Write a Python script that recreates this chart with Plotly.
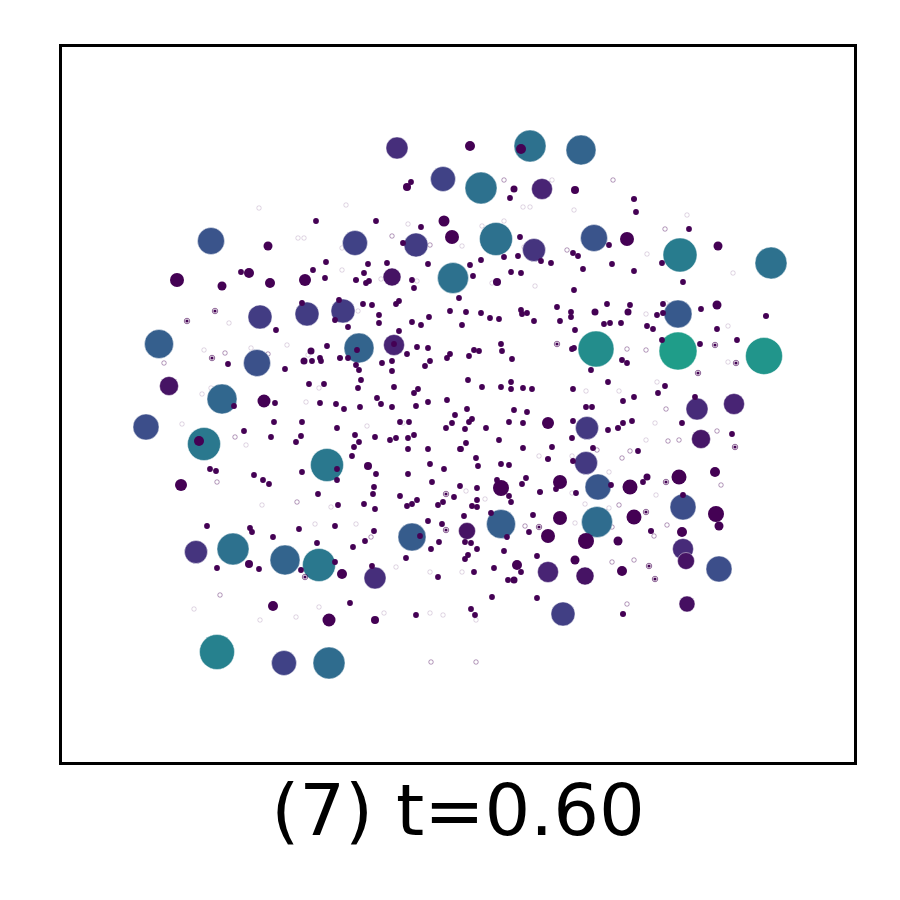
import plotly.graph_objects as go

# values: (x, y, size, colour value)
large = [
    (397, 148, 22, .13), (530, 146, 32, .37), (581, 150, 30, .32), (443, 179, 25, .2),
    (481, 188, 32, .37), (542, 189, 21, .1), (211, 241, 27, .26), (355, 243, 25, .2),
    (416, 245, 24, .18), (496, 239, 33, .37), (534, 250, 23, .15), (594, 238, 27, .26),
    (680, 255, 34, .42), (771, 263, 32, .37), (453, 278, 31, .37), (392, 277, 18, .05),
    (260, 317, 24, .18), (307, 314, 24, .18), (343, 311, 24, .18), (678, 314, 28, .28),
    (159, 344, 29, .3), (359, 348, 30, .32), (394, 345, 21, .1), (596, 349, 36, .49),
    (678, 351, 38, .55), (764, 356, 37, .52), (257, 363, 27, .25), (169, 386, 19, .05),
    (222, 399, 30, .33), (697, 409, 22, .12), (734, 404, 21, .1), (146, 427, 26, .24),
    (204, 444, 33, .4), (587, 428, 23, .17), (701, 439, 19, .06), (327, 465, 33, .4),
    (586, 463, 23, .17), (598, 487, 26, .27), (683, 507, 26, .24), (412, 537, 28, .29),
    (467, 531, 17, .05), (501, 524, 29, .3), (597, 522, 31, .35), (233, 549, 32, .37),
    (196, 552, 23, .15), (285, 560, 30, .32), (319, 565, 33, .4), (375, 578, 22, .13),
    (683, 549, 21, .12), (686, 561, 17, .05), (548, 572, 21, .1), (585, 576, 18, .05),
    (719, 569, 26, .24), (563, 614, 24, .19), (687, 604, 16, .04), (217, 652, 35, .44),
    (284, 663, 25, .2), (329, 663, 32, .35),
]

# (x, y, size), all at the bottom of the colour scale
medium = [
    (268, 246, 9), (177, 280, 14), (249, 273, 10), (222, 286, 9), (270, 283, 10),
    (305, 280, 12), (444, 221, 11), (452, 237, 14), (407, 187, 8), (311, 351, 7),
    (304, 361, 7), (264, 401, 13), (340, 358, 6), (356, 280, 6), (470, 146, 10),
    (521, 149, 10), (514, 189, 7), (575, 190, 8), (634, 199, 6), (627, 239, 14),
    (718, 246, 9), (497, 282, 8), (717, 305, 9), (766, 316, 6), (595, 312, 7),
    (628, 312, 7), (199, 441, 10), (181, 485, 12), (368, 466, 8), (249, 564, 8),
    (342, 574, 10), (273, 606, 10), (329, 620, 13), (375, 620, 8), (548, 423, 12),
    (548, 459, 6), (501, 488, 16), (560, 482, 14), (540, 492, 6), (630, 487, 15),
    (647, 477, 7), (679, 477, 15), (715, 472, 10), (618, 428, 6), (560, 518, 14),
    (634, 517, 15), (548, 536, 14), (586, 541, 16), (618, 541, 9), (651, 531, 6),
    (682, 532, 10), (719, 526, 9), (716, 514, 16), (517, 565, 10), (514, 580, 7),
    (575, 560, 9), (622, 571, 10), (623, 614, 6),
]

small_x = [
    316, 376, 421, 403, 411, 326, 313, 241, 325, 368, 387, 364, 366, 369, 412, 414, 428,
    302, 339, 363, 372, 379, 379, 396, 399, 429, 412, 421, 450, 459, 335, 348, 276, 399,
    327, 417, 428, 450, 447, 407, 392, 382, 430, 425, 320, 321, 312, 348, 356, 359, 392,
    285, 228, 361, 394, 358, 309, 324, 418, 414, 377, 447, 357, 394,
    234, 275, 320, 336, 344, 360, 381, 392, 416, 428, 455, 452, 446, 274, 302, 337, 400,
    409, 244, 301, 271, 296, 355, 359, 354, 352, 375, 390, 396, 408, 414, 408, 428, 460,
    430, 444, 408, 376, 337, 337, 302, 210, 216, 254, 263, 269, 432, 374, 460, 373, 318,
    400, 417, 412, 407, 438, 443, 454, 364, 338, 375, 428, 442, 207, 250, 252, 273, 299,
    335, 374, 365, 353, 317, 420, 439, 431, 406, 438, 217, 259, 301, 335, 372, 350, 416,
    510, 636, 689, 520, 609, 504, 518, 541, 551, 573, 578, 583, 612, 662, 634, 481, 470,
    473, 511, 521, 574, 683, 466, 481, 490, 499, 521, 522, 527, 534, 462, 557, 571, 571,
    560, 575, 607, 630, 604, 610, 621, 663, 657, 663, 647, 653, 701, 717, 737, 700, 662,
    501, 502, 474, 479, 469, 512, 572, 574, 622, 627, 591, 468, 482, 501, 511, 511, 523,
    532, 573, 608, 665, 658, 634, 695, 623,
    467, 472, 469, 465, 486, 514, 527, 509, 523, 586, 592, 573, 608, 623, 632, 682, 732,
    499, 466, 461, 523, 572, 552, 593, 638, 476, 478, 501, 509, 573, 526, 522, 497, 477,
    477, 509, 511, 472, 477, 556, 576, 611, 643, 491, 464, 533, 529, 507, 465, 471, 477,
    504, 468, 465, 537, 494, 474, 521, 508, 492, 537, 471, 475, 683,
]
small_y = [
    221, 221, 227, 243, 182, 262, 270, 272, 278, 264, 263, 273, 283, 281, 280, 288, 264,
    303, 300, 304, 305, 315, 323, 304, 301, 317, 322, 325, 311, 298, 320, 327, 330, 331,
    346, 347, 348, 354, 358, 354, 361, 363, 361, 366, 358, 361, 361, 358, 365, 370, 371,
    369, 364, 380, 387, 388, 384, 384, 389, 393, 398, 400, 350, 344,
    406, 403, 403, 404, 409, 407, 404, 407, 406, 402, 415, 423, 428, 422, 422, 428, 422,
    422, 431, 436, 437, 442, 435, 442, 447, 456, 437, 440, 438, 438, 435, 449, 449, 449,
    464, 469, 474, 474, 469, 480, 472, 469, 471, 475, 480, 484, 482, 487, 486, 494, 494,
    496, 500, 504, 506, 505, 502, 497, 504, 505, 509, 521, 524, 526, 528, 532, 537, 529,
    526, 531, 541, 547, 543, 536, 542, 549, 558, 577, 568, 569, 570, 562, 566, 603, 615,
    198, 212, 229, 237, 245, 257, 256, 261, 263, 253, 256, 269, 264, 263, 271, 260, 265,
    276, 272, 273, 290, 282, 312, 313, 318, 319, 310, 314, 313, 321, 325, 307, 312, 317,
    321, 330, 304, 305, 324, 323, 323, 304, 315, 313, 326, 329, 309, 329, 340, 344, 340,
    344, 351, 350, 351, 356, 359, 349, 348, 360, 363, 370, 380, 387, 387, 389, 382, 388,
    389, 389, 382, 386, 393, 397, 397, 401,
    409, 419, 422, 429, 428, 410, 412, 422, 423, 407, 407, 421, 430, 423, 421, 423, 434,
    440, 443, 449, 448, 438, 447, 448, 451, 458, 466, 464, 465, 461, 478, 484, 480, 488,
    500, 496, 502, 506, 507, 489, 493, 485, 482, 513, 516, 515, 532, 537, 542, 543, 549,
    551, 555, 559, 556, 568, 572, 572, 580, 597, 598, 609, 615, 495,
]

# tiny points that only show as a ring: with a dark centre, dark rim, pale rim
ring_dot_x = [215, 187, 212, 557, 715, 736, 698, 446, 446, 305, 666, 646, 539, 735, 649, 655]
ring_dot_y = [311, 321, 358, 344, 345, 363, 373, 494, 530, 577, 482, 512, 527, 447, 566, 579]

ring_x = [
    392, 430, 225, 164, 268, 504, 613, 665, 567, 627, 646, 235, 297, 371, 220, 217, 666,
    717, 679, 630, 622, 721, 667, 654, 634, 619, 612, 525, 668, 597, 612, 627, 476, 431,
]
ring_y = [
    236, 245, 353, 363, 354, 180, 180, 229, 250, 349, 350, 437, 502, 537, 595, 482, 409,
    431, 440, 451, 458, 485, 525, 536, 560, 505, 527, 526, 441, 450, 562, 604, 662, 662,
]

pale_x = [
    259, 346, 298, 304, 408, 342, 381, 417, 229, 358, 204, 251, 287, 308, 319, 211, 202,
    342, 552, 523, 530, 574, 687, 504, 482, 462, 524, 647, 733, 492, 535, 646, 728, 728,
    657, 586, 619, 666, 306, 182, 367, 246, 262, 331, 315, 356, 430, 396, 194, 319, 260,
    296, 384, 430, 443, 403, 655, 646, 539, 572, 609, 656, 572, 466, 485, 585, 609, 575,
    462, 476,
]
pale_y = [
    208, 205, 238, 238, 224, 270, 279, 281, 323, 311, 350, 348, 345, 355, 388, 388, 394,
    248, 180, 207, 207, 210, 215, 221, 226, 246, 247, 254, 273, 283, 286, 314, 326, 362,
    382, 391, 391, 303, 402, 424, 426, 445, 505, 507, 524, 524, 572, 567, 609, 607, 620,
    617, 613, 613, 615, 423, 423, 440, 456, 456, 472, 495, 493, 491, 499, 504, 508, 523,
    572, 620,
]

title = "(7) t=0.60"


def rings(x, y, size, alpha):
    return go.Scatter(x=x, y=y, mode="markers", hoverinfo="skip",
                      marker=dict(symbol="circle-open", size=size, opacity=1,
                                  color=f"rgba(68,1,84,{alpha})",
                                  line=dict(width=1, color=f"rgba(68,1,84,{alpha})")))


def dots(x, y, size):
    return go.Scatter(x=x, y=y, mode="markers", hoverinfo="skip",
                      marker=dict(size=size, opacity=1, color="#440154", line=dict(width=0)))


fig = go.Figure()
fig.add_trace(rings(pale_x, pale_y, 4.5, 0.16))
fig.add_trace(rings(ring_x, ring_y, 4.5, 0.4))
fig.add_trace(go.Scatter(
    x=[p[0] for p in large], y=[p[1] for p in large], mode="markers",
    marker=dict(size=[p[2] for p in large], color=[p[3] for p in large], opacity=1,
                colorscale="Viridis", cmin=0, cmax=1,
                line=dict(width=1, color="rgba(255,255,255,0.45)"))))
fig.add_trace(dots([p[0] for p in medium], [p[1] for p in medium], [p[2] for p in medium]))
fig.add_trace(dots(small_x, small_y, 5.8))
fig.add_trace(rings(ring_dot_x, ring_dot_y, 5.5, 0.6))
fig.add_trace(dots(ring_dot_x, ring_dot_y, 3.2))

axis = dict(showgrid=False, zeroline=False, showticklabels=False, ticks="",
            showline=True, mirror=True, linecolor="black", linewidth=2.5)
fig.update_layout(
    width=884, height=884, autosize=False, showlegend=False,
    plot_bgcolor="white", paper_bgcolor="white",
    margin=dict(l=54, r=38, t=39, b=130),
    xaxis=dict(axis, range=[62, 854],
               title=dict(text=title, standoff=21,
                          font=dict(family="DejaVu Sans", size=72, color="black"))),
    yaxis=dict(axis, range=[762, 47]),
)
fig.write_html("out.html")
